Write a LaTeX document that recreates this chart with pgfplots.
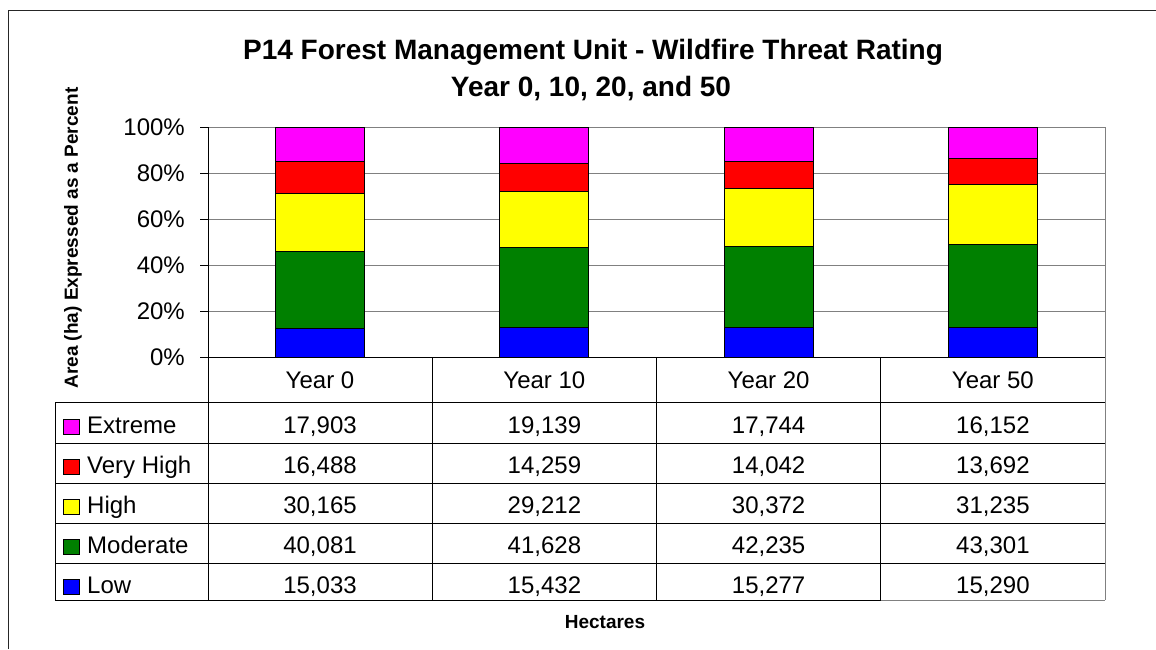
\documentclass[border=0pt]{standalone}
\usepackage{pgfplots}
\pgfplotsset{compat=1.18}
\usepackage{pgfplotstable}
\usepackage{fontspec}
\setmainfont{Liberation Sans}

\pgfplotstableread{
x Low Moderate High VeryHigh Extreme Total
0 15033 40081 30165 16488 17903 119670
1 15432 41628 29212 14259 19139 119670
2 15277 42235 30372 14042 17744 119670
3 15290 43301 31235 13692 16152 119670
}\hadata

\definecolor{cExt}{HTML}{FF00FF}
\definecolor{cVH}{HTML}{FF0000}
\definecolor{cHi}{HTML}{FFFF00}
\definecolor{cMod}{HTML}{008000}
\definecolor{cLow}{HTML}{0000FF}
\definecolor{gridc}{HTML}{808080}

\begin{document}
\begin{tikzpicture}[x=1pt,y=1pt]
\useasboundingbox (0,0) rectangle (1156,-649);
% outer frame (cropped)
\draw[line width=1pt, black!85] (8,-649) -- (8,-10) -- (1160,-10);

% titles
\node[anchor=base, font=\bfseries\fontsize{28}{32}\selectfont] at (593,-59) {P14 Forest Management Unit - Wildfire Threat Rating};
\node[anchor=base, font=\bfseries\fontsize{28}{32}\selectfont] at (591,-96) {Year 0, 10, 20, and 50};

\begin{axis}[
  at={(208pt,-357pt)}, anchor=south west,
  scale only axis, width=897pt, height=230pt,
  xmin=-0.5, xmax=3.5, ymin=0, ymax=100,
  ybar stacked, bar width=89pt,
  xtick=\empty,
  ytick={0,20,40,60,80,100},
  ytick pos=left,
  yticklabels={0\%,20\%,40\%,60\%,80\%,100\%},
  yticklabel style={font=\fontsize{24}{28}\selectfont, anchor=east, inner sep=0pt, xshift=-15pt},
  tick align=outside, major tick length=8pt,
  ytick style={draw=black, line width=1pt},
  ymajorgrids, grid style={draw=gridc, line width=1pt},
  axis line style={draw=gridc, line width=1pt},
  clip=false,
]
\addplot[fill=cLow, draw=black, line width=0.9pt] table[x=x, y expr=\thisrow{Low}/\thisrow{Total}*100]{\hadata};
\addplot[fill=cMod, draw=black, line width=0.9pt] table[x=x, y expr=\thisrow{Moderate}/\thisrow{Total}*100]{\hadata};
\addplot[fill=cHi, draw=black, line width=0.9pt] table[x=x, y expr=\thisrow{High}/\thisrow{Total}*100]{\hadata};
\addplot[fill=cVH, draw=black, line width=0.9pt] table[x=x, y expr=\thisrow{VeryHigh}/\thisrow{Total}*100]{\hadata};
\addplot[fill=cExt, draw=black, line width=0.9pt] table[x=x, y expr=\thisrow{Extreme}/\thisrow{Total}*100]{\hadata};
\draw[black, line width=1pt] (rel axis cs:0,0) -- (rel axis cs:0,1);
\draw[black, line width=1pt] (rel axis cs:0,0) -- (rel axis cs:1,0);
\end{axis}

% data table
\begin{scope}[line width=1pt]
\foreach \yy in {402,443,483,523,563,600} \draw[black] (55,-\yy) -- (1105,-\yy);
\draw[black] (55,-402) -- (55,-600);
\foreach \xx in {208,432.25,656.5,880.75} \draw[black] (\xx,-357) -- (\xx,-600);
\draw[gridc] (1105,-357) -- (1105,-600);
\draw[gridc] (880.75,-600) -- (1105,-600);
\end{scope}

\begin{scope}[every node/.style={anchor=base, font=\fontsize{24}{28}\selectfont, inner sep=0pt}]
\node at (320,-388) {Year 0};
\node at (544.4,-388) {Year 10};
\node at (768.6,-388) {Year 20};
\node at (992.9,-388) {Year 50};
% rows
\node at (320,-433) {17,903}; \node at (544.4,-433) {19,139}; \node at (768.6,-433) {17,744}; \node at (992.9,-433) {16,152};
\node at (320,-473) {16,488}; \node at (544.4,-473) {14,259}; \node at (768.6,-473) {14,042}; \node at (992.9,-473) {13,692};
\node at (320,-513) {30,165}; \node at (544.4,-513) {29,212}; \node at (768.6,-513) {30,372}; \node at (992.9,-513) {31,235};
\node at (320,-553) {40,081}; \node at (544.4,-553) {41,628}; \node at (768.6,-553) {42,235}; \node at (992.9,-553) {43,301};
\node at (320,-593) {15,033}; \node at (544.4,-593) {15,432}; \node at (768.6,-593) {15,277}; \node at (992.9,-593) {15,290};
\node[anchor=base west] at (87,-433) {Extreme};
\node[anchor=base west] at (87,-473) {Very High};
\node[anchor=base west] at (87,-513) {High};
\node[anchor=base west] at (87,-553) {Moderate};
\node[anchor=base west] at (87,-593) {Low};
\end{scope}
\begin{scope}[line width=0.8pt]
\filldraw[fill=cExt, draw=black] (63,-419) rectangle (79,-434);
\filldraw[fill=cVH, draw=black] (63,-459) rectangle (79,-474);
\filldraw[fill=cHi, draw=black] (63,-499) rectangle (79,-514);
\filldraw[fill=cMod, draw=black] (63,-539) rectangle (79,-554);
\filldraw[fill=cLow, draw=black] (63,-579) rectangle (79,-594);
\end{scope}

% axis labels
\node[rotate=90, font=\bfseries\fontsize{19}{22}\selectfont] at (73,-238) {Area (ha) Expressed as a Percent};
\node[anchor=base, font=\bfseries\fontsize{19}{22}\selectfont] at (605,-628) {Hectares};
\end{tikzpicture}
\end{document}
